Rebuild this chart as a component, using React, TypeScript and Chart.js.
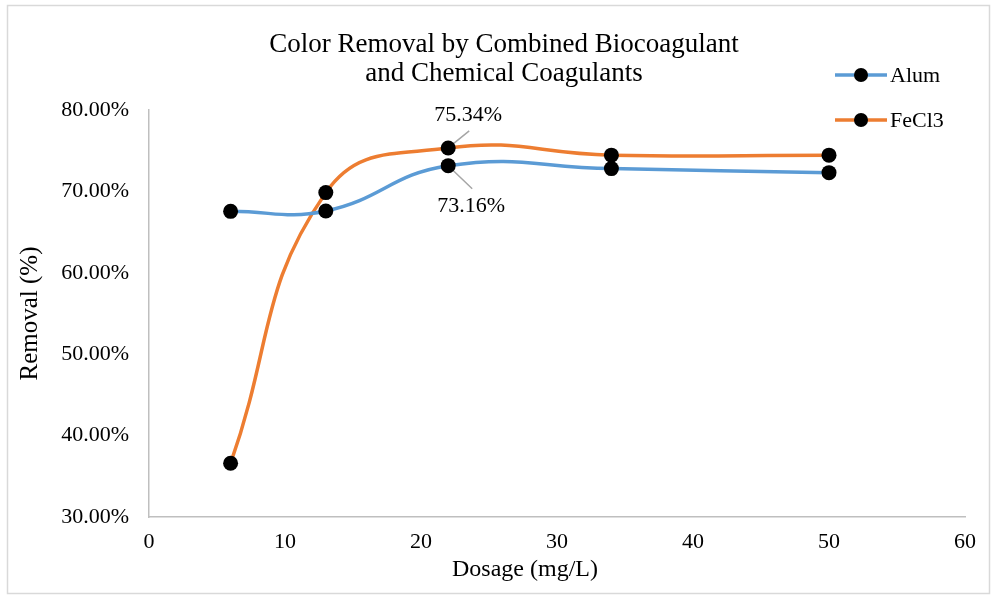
import React, { useEffect, useRef } from "react";
import { Chart, registerables } from "chart.js";

Chart.register(...registerables);

const dosage = [6, 13, 22, 34, 50];
const alumRemoval = [67.55, 67.6, 73.16, 72.8, 72.3];
const fecl3Removal = [36.6, 69.85, 75.34, 74.45, 74.45];
const seriesNames = ["Alum", "FeCl3"];
const seriesColors = ["#5B9BD5", "#ED7D31"];
const titleLines = ["Color Removal by Combined Biocoagulant", "and Chemical Coagulants"];
const xTitle = "Dosage (mg/L)";
const yTitle = "Removal (%)";
const labeledIndex = 2;

const FONT = "'Liberation Serif', 'Times New Roman', serif";

const overlayPlugin = {
  id: "overlay",
  beforeDatasetsDraw(chart: any) {
    const ctx = chart.ctx;
    const xs = chart.scales.x;
    const ys = chart.scales.y;
    const px = xs.getPixelForValue(dosage[labeledIndex]);
    const pyF = ys.getPixelForValue(fecl3Removal[labeledIndex]);
    const pyA = ys.getPixelForValue(alumRemoval[labeledIndex]);
    ctx.save();
    ctx.strokeStyle = "#A6A6A6";
    ctx.lineWidth = 1.5;
    ctx.beginPath();
    ctx.moveTo(px, pyF);
    ctx.lineTo(px + 21, pyF - 17);
    ctx.moveTo(px, pyA);
    ctx.lineTo(px + 24, pyA + 23);
    ctx.stroke();
    ctx.restore();
  },
  afterDraw(chart: any) {
    const ctx = chart.ctx;
    const xs = chart.scales.x;
    const ys = chart.scales.y;
    ctx.save();
    // outer border
    ctx.strokeStyle = "#D9D9D9";
    ctx.lineWidth = 1.5;
    ctx.strokeRect(7.5, 5.5, 982, 588);
    // title
    ctx.fillStyle = "#000";
    ctx.textAlign = "center";
    ctx.textBaseline = "middle";
    ctx.font = `27px ${FONT}`;
    ctx.fillText(titleLines[0], 504, 45);
    ctx.fillText(titleLines[1], 504, 74);
    // x title
    ctx.font = `24px ${FONT}`;
    ctx.fillText(xTitle, 525, 570);
    // data labels
    const px = xs.getPixelForValue(dosage[labeledIndex]);
    const pyF = ys.getPixelForValue(fecl3Removal[labeledIndex]);
    const pyA = ys.getPixelForValue(alumRemoval[labeledIndex]);
    ctx.font = `22px ${FONT}`;
    ctx.fillText(fecl3Removal[labeledIndex].toFixed(2) + "%", px + 20, pyF - 33);
    ctx.fillText(alumRemoval[labeledIndex].toFixed(2) + "%", px + 23, pyA + 41);
    // legend
    const legendY = [75, 120];
    seriesNames.forEach((name, i) => {
      const y = legendY[i];
      ctx.strokeStyle = seriesColors[i];
      ctx.lineWidth = 3.5;
      ctx.beginPath();
      ctx.moveTo(835, y);
      ctx.lineTo(887, y);
      ctx.stroke();
      ctx.fillStyle = "#000";
      ctx.beginPath();
      ctx.arc(861, y, 7, 0, Math.PI * 2);
      ctx.fill();
      ctx.textAlign = "left";
      ctx.font = `22px ${FONT}`;
      ctx.fillText(name, 890, y + 1);
    });
    ctx.restore();
  },
};

export default function App() {
  const canvasRef = useRef<HTMLCanvasElement | null>(null);

  useEffect(() => {
    document.body.style.margin = "0";
    const canvas = canvasRef.current;
    if (!canvas) return;
    const chart = new Chart(canvas, {
      type: "line",
      data: {
        datasets: [
          {
            label: seriesNames[0],
            data: dosage.map((x, i) => ({ x, y: alumRemoval[i] })),
            borderColor: seriesColors[0],
            backgroundColor: seriesColors[0],
            borderWidth: 3.5,
            pointRadius: 7.5,
            pointBackgroundColor: "#000",
            pointBorderColor: "#000",
            pointBorderWidth: 0,
            tension: 0.45,
            fill: false,
          },
          {
            label: seriesNames[1],
            data: dosage.map((x, i) => ({ x, y: fecl3Removal[i] })),
            borderColor: seriesColors[1],
            backgroundColor: seriesColors[1],
            borderWidth: 3.5,
            pointRadius: 7.5,
            pointBackgroundColor: "#000",
            pointBorderColor: "#000",
            pointBorderWidth: 0,
            tension: 0.45,
            fill: false,
          },
        ],
      },
      options: {
        responsive: false,
        animation: false,
        layout: { padding: { top: 110, right: 27, bottom: 0, left: 0 } },
        plugins: {
          legend: { display: false },
          title: { display: false },
          tooltip: { enabled: false },
        },
        scales: {
          x: {
            type: "linear",
            min: 0,
            max: 60,
            ticks: {
              stepSize: 10,
              padding: 12,
              color: "#000",
              font: { family: FONT, size: 22 },
            },
            grid: { display: false, drawTicks: false, tickLength: 0 },
            border: { display: true, color: "#BFBFBF", width: 1.5 },
            afterFit: (s: any) => {
              s.height = 81;
            },
          },
          y: {
            type: "linear",
            min: 30,
            max: 80,
            ticks: {
              stepSize: 10,
              padding: 20,
              color: "#000",
              font: { family: FONT, size: 22 },
              callback: (v: any) => Number(v).toFixed(2) + "%",
            },
            grid: { display: false, drawTicks: false, tickLength: 0 },
            border: { display: true, color: "#BFBFBF", width: 1.5 },
            title: {
              display: true,
              text: yTitle,
              color: "#000",
              font: { family: FONT, size: 25 },
              padding: { top: 15, bottom: 0 },
            },
            afterFit: (s: any) => {
              s.width = 149;
            },
          },
        },
      },
      plugins: [overlayPlugin],
    });
    return () => chart.destroy();
  }, []);

  return <canvas ref={canvasRef} width={992} height={598} style={{ display: "block" }} />;
}
